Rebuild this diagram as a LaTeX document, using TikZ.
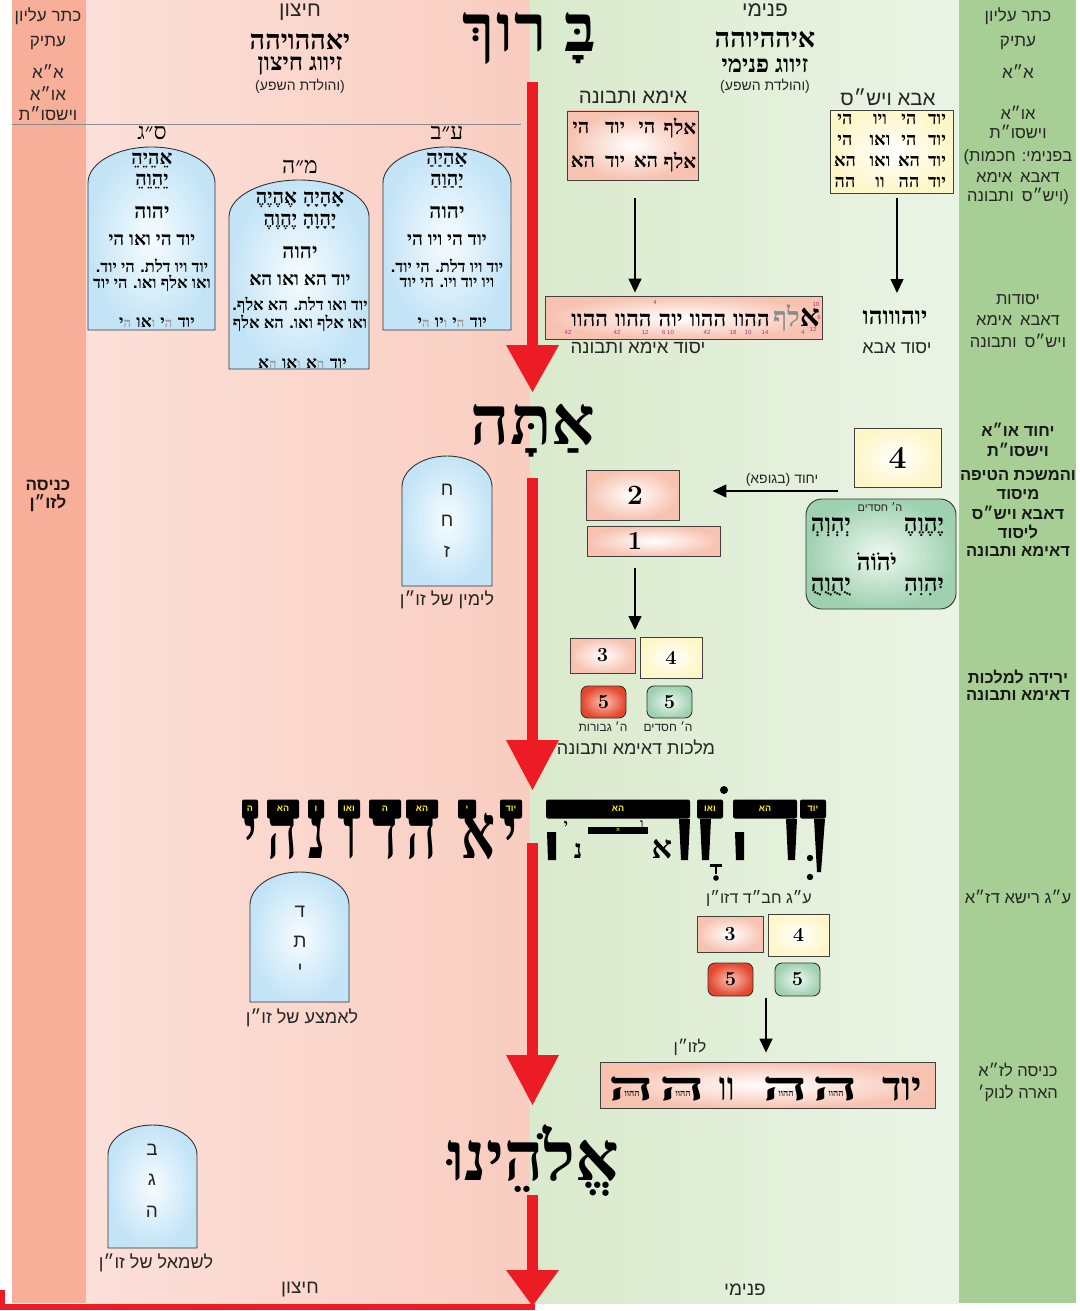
\documentclass[tikz,border=0pt]{standalone}
\usepackage{fontspec}
\usetikzlibrary{arrows.meta}
\newfontfamily\hs[Script=Hebrew]{Liberation Sans}
\newfontfamily\hr[Script=Hebrew]{Liberation Serif}
\newfontfamily\lat{Liberation Sans}
\TeXXeTstate=1
\newcommand\HR[1]{\beginR#1\endR}
\newcommand\fsz[1]{\fontsize{#1}{#1}\selectfont}
\newcommand\gr[1]{{\color{black!40}\fsz{13}#1}}
\definecolor{redL}{HTML}{ED1C24}
\definecolor{bandL}{HTML}{F8AF99}
\definecolor{bandR}{HTML}{A7CF95}
\definecolor{pinkA}{HTML}{FCE0D9}
\definecolor{pinkB}{HTML}{F9CDC0}
\definecolor{grnA}{HTML}{DAEACC}
\definecolor{grnB}{HTML}{EAF4E5}
\definecolor{tabOut}{HTML}{C3E4F7}
\definecolor{tabIn}{HTML}{F7FCFF}
\definecolor{boxPink}{HTML}{F7C2B0}
\definecolor{cream}{HTML}{FFF6C8}
\definecolor{redOut}{HTML}{E4462E}
\definecolor{redIn}{HTML}{FBC3B3}
\definecolor{gOut}{HTML}{9FD1B0}
\definecolor{gIn}{HTML}{EEF8F1}
\definecolor{yel}{HTML}{FFF200}
\definecolor{mag}{HTML}{B0307A}
\newcommand\tablet[6]{%
 \path[tabsty] (#2,#6) -- (#2,#5) .. controls (#2,{#5-0.552*(#5-#4)}) and ({(#2+#3)/2-0.276*(#3-#2)},#4) .. ({(#2+#3)/2},#4) .. controls ({(#2+#3)/2+0.276*(#3-#2)},#4) and (#3,{#5-0.552*(#5-#4)}) .. (#3,#5) -- (#3,#6) -- cycle;
 \coordinate (#1) at ({(#2+#3)/2},#4);}
\begin{document}
\begin{tikzpicture}[x=1pt,y=-1pt,
 lab/.style={font=\hs\fsz{16.5}, inner sep=0pt, text=black!85},
 blab/.style={font=\hs\bfseries\fsz{16.5}, inner sep=0pt, text=black!90},
 ser/.style={font=\hr\bfseries\fsz{20}, inner sep=0pt},
 tl/.style={font=\hr\bfseries\fsz{17}, inner sep=0pt, anchor=base east},
 big/.style={font=\hr\bfseries\fsz{68}, inner sep=0pt, anchor=base},
 bigl/.style={font=\hr\bfseries\fsz{62}, inner sep=0pt, anchor=base},
 pinkbox/.style={draw=black!75, line width=0.9pt, inner color=white, outer color=boxPink, inner sep=0pt},
 creambox/.style={draw=black!75, line width=0.9pt, inner color=white, outer color=cream, inner sep=0pt},
 redbox/.style={draw=black!80, line width=0.9pt, rounded corners=7pt, inner color=redIn, outer color=redOut, inner sep=0pt},
 grnbox/.style={draw=black!80, line width=0.9pt, rounded corners=7pt, inner color=gIn, outer color=gOut, inner sep=0pt},
 tabsty/.style={draw=black!80, line width=0.9pt, inner color=tabIn, outer color=tabOut},
 arr/.style={line width=1.5pt, -{Triangle[length=14pt,width=13pt]}},
 barsty/.style={fill=black, rounded corners=2pt, minimum height=19pt, inner sep=0pt, text=yel, font=\hs\bfseries\fsz{9}},
 mg/.style={font=\hs\fsz{6}, text=mag, inner sep=0pt},
]
\useasboundingbox (0,0) rectangle (1079,1311);
% backgrounds
\fill[bandL] (12,0) rectangle (86,1303);
\shade[left color=pinkA, right color=pinkB] (86,0) rectangle (530,1303);
\shade[left color=grnA, right color=grnB] (530,0) rectangle (959,1303);
\fill[bandR] (959,0) rectangle (1076,1303);
\draw[black!45, line width=0.8pt] (12,124) -- (521,124);

% red main arrow
\fill[redL] (527,82) rectangle (538,347);
\fill[redL] (506,345) -- (559,345) -- (532.5,392) -- cycle;
\fill[redL] (527,478) rectangle (538,742);
\fill[redL] (506,740) -- (559,740) -- (532.5,790) -- cycle;
\fill[redL] (527,843) rectangle (538,1057);
\fill[redL] (506,1055) -- (559,1055) -- (532.5,1105) -- cycle;
\fill[redL] (527,1195) rectangle (538,1272);
\fill[redL] (506,1270) -- (559,1270) -- (532.5,1306) -- cycle;
\fill[redL] (0,1304) rectangle (535,1310);
\fill[redL] (0,1290) rectangle (5,1310);

% left column
\node[lab, font=\hs\fsz{17}] (lc1) at (48,16) {\HR{כתר עליון}};
\node[lab, font=\hs\fsz{17}] (lc2) at (48,43) {\HR{עתיק}};
\node[lab, font=\hs\fsz{17}] (lc3) at (48,72) {\HR{א״א}};
\node[lab, font=\hs\fsz{17}] (lc4) at (48,94) {\HR{או״א}};
\node[lab, font=\hs\fsz{17}] (lc5) at (48,114) {\HR{וישסו״ת}};
\node[blab, font=\hs\bfseries\fsz{17}] (lc6) at (48,485) {\HR{כניסה}};
\node[blab, font=\hs\bfseries\fsz{17}] (lc7) at (48,503) {\HR{לזו״ן}};

% right column
\node[lab, font=\hs\fsz{17}] (rc1) at (1018,16) {\HR{כתר עליון}};
\node[lab, font=\hs\fsz{17}] (rc2) at (1018,43) {\HR{עתיק}};
\node[lab, font=\hs\fsz{17}] (rc3) at (1018,72) {\HR{א״א}};
\node[lab] (rc4) at (1018,113) {\HR{או״א}};
\node[lab] (rc5) at (1018,132) {\HR{וישסו״ת}};
\node[lab] (rc6) at (1018,157) {\HR{בפנימי{\lat:} חכמות{\lat(}}};
\node[lab] (rc7) at (1018,177) {\HR{דאבא\hspace{8pt}אימא}};
\node[lab] (rc8) at (1018,196) {\HR{{\lat)}ויש״ס\hspace{8pt}ותבונה}};
\node[lab] (rc9) at (1018,300) {\HR{יסודות}};
\node[lab] (rc10) at (1018,320) {\HR{דאבא\hspace{8pt}אימא}};
\node[lab] (rc11) at (1018,341) {\HR{ויש״ס\hspace{8pt}ותבונה}};
\node[blab] (rc12) at (1018,430) {\HR{יחוד או״א}};
\node[blab] (rc13) at (1018,450) {\HR{וישסו״ת}};
\node[blab] (rc14) at (1018,475) {\HR{והמשכת הטיפה}};
\node[blab] (rc15) at (1018,495) {\HR{מיסוד}};
\node[blab] (rc16) at (1018,513) {\HR{דאבא ויש״ס}};
\node[blab] (rc17) at (1018,532) {\HR{ליסוד}};
\node[blab] (rc18) at (1018,551) {\HR{דאימא ותבונה}};
\node[blab] (rc19) at (1018,677) {\HR{ירידה למלכות}};
\node[blab] (rc20) at (1018,695) {\HR{דאימא ותבונה}};
\node[lab] (rc21) at (1018,897) {\HR{ע״ג רישא דז״א}};
\node[lab] (rc22) at (1018,1070) {\HR{כניסה לז״א}};
\node[lab] (rc23) at (1018,1093) {\HR{הארה לנוק׳}};

% headings
\node[lab, font=\hs\fsz{21}] (hzT) at (300,12) {\HR{חיצון}};
\node[ser, font=\hr\bfseries\fsz{27}] (hzN) at (300,42) {יאההויהה};
\node[ser, font=\hr\bfseries\fsz{24}] (hzZ) at (300,66) {\HR{זיווג חיצון}};
\node[lab, font=\hs\fsz{14}] (hzH) at (300,86) {\HR{{\lat)}והולדת השפע{\lat(}}};
\node[lab, font=\hs\fsz{21}] (pnT) at (765,10) {\HR{פנימי}};
\node[ser, font=\hr\bfseries\fsz{27}] (pnN) at (765,40) {איההיוהה};
\node[ser, font=\hr\bfseries\fsz{24}] (pnZ) at (765,66) {\HR{זיווג פנימי}};
\node[lab, font=\hs\fsz{14}] (pnH) at (765,86) {\HR{{\lat)}והולדת השפע{\lat(}}};

% big words
\node[big, font=\hr\bfseries\fsz{66}] (brB) at (580,52) {בָּ};
\node[big, font=\hr\bfseries\fsz{66}] (brR) at (531,52) {ר};
\node[big, font=\hr\bfseries\fsz{66}] (brV) at (505,52) {ו};
\node[big, font=\hr\bfseries\fsz{66}] (brK) at (479,52) {ךְ};
\node[big] (ata) at (533,444) {אַתָּה};
\node[big] (elo) at (533,1180) {אֱלֹהֵינוּ};

% tablets
\tablet{tabSG}{88}{215}{147}{183}{330}
\tablet{tabMH}{229}{369}{180}{217}{369}
\tablet{tabAB}{383}{511}{147}{183}{330}
\tablet{tabHHZ}{402}{492}{456}{487}{586}
\tablet{tabDTY}{250}{349}{872}{905}{1002}
\tablet{tabBGH}{108}{197}{1125}{1155}{1248}
\node[ser, font=\hr\fsz{23}] (sgL) at (152,133) {\HR{ס״ג}};
\node[ser, font=\hr\fsz{23}] (mhL) at (300,167) {\HR{מ״ה}};
\node[ser, font=\hr\fsz{23}] (abL) at (447,133) {\HR{ע״ב}};
% ab
\node[ser] (ab1) at (447,160) {אַהַיַהַ};
\node[ser] (ab2) at (447,181) {יַהַוַהַ};
\node[ser, font=\hr\bfseries\fsz{21}] (ab3) at (447,212) {יהוה};
\node[ser, font=\hr\bfseries\fsz{19}] (ab4) at (447,240) {\HR{יוד הי ויו הי}};
\node[ser, font=\hr\bfseries\fsz{16.5}] (ab5) at (447,266) {\HR{יוד ויו דלת{\lat.} הי יוד{\lat.}}};
\node[ser, font=\hr\bfseries\fsz{16.5}] (ab6) at (447,283) {\HR{ויו יוד ויו{\lat.} הי יוד}};
\node[tl] (ab7d) at (487,327) {יוד};
\node[tl] (ab7c) at ([xshift=-5pt]ab7d.base west) {י\gr{ה}};
\node[tl] (ab7b) at ([xshift=-5pt]ab7c.base west) {יו\gr{ו}};
\node[tl] (ab7a) at ([xshift=-5pt]ab7b.base west) {י\gr{ה}};
% sg
\node[ser] (sg1) at (152,160) {אֵהֵיֵהֵ};
\node[ser] (sg2) at (152,181) {יֵהֵוֵהֵ};
\node[ser, font=\hr\bfseries\fsz{21}] (sg3) at (152,212) {יהוה};
\node[ser, font=\hr\bfseries\fsz{19}] (sg4) at (152,240) {\HR{יוד הי ואו הי}};
\node[ser, font=\hr\bfseries\fsz{16.5}] (sg5) at (152,266) {\HR{יוד ויו דלת{\lat.} הי יוד{\lat.}}};
\node[ser, font=\hr\bfseries\fsz{16.5}] (sg6) at (152,283) {\HR{ואו אלף ואו{\lat.} הי יוד}};
\node[tl] (sg7d) at (195,327) {יוד};
\node[tl] (sg7c) at ([xshift=-5pt]sg7d.base west) {י\gr{ה}};
\node[tl] (sg7b) at ([xshift=-5pt]sg7c.base west) {או\gr{ו}};
\node[tl] (sg7a) at ([xshift=-5pt]sg7b.base west) {י\gr{ה}};
% mh
\node[ser] (mh1) at (300,200) {\HR{אָהָיָהָ\hspace{6pt}אֶהֶיֶהֶ}};
\node[ser] (mh2) at (300,222) {\HR{יָהָוָהָ\hspace{6pt}יֶהֶוֶהֶ}};
\node[ser, font=\hr\bfseries\fsz{21}] (mh3) at (300,252) {יהוה};
\node[ser, font=\hr\bfseries\fsz{19}] (mh4) at (300,280) {\HR{יוד הא ואו הא}};
\node[ser, font=\hr\bfseries\fsz{16.5}] (mh5) at (300,305) {\HR{יוד ואו דלת{\lat.} הא אלף{\lat.}}};
\node[ser, font=\hr\bfseries\fsz{16.5}] (mh6) at (300,323) {\HR{ואו אלף ואו{\lat.} הא אלף}};
\node[tl] (mh7d) at (347,368) {יוד};
\node[tl] (mh7c) at ([xshift=-5pt]mh7d.base west) {א\gr{ה}};
\node[tl] (mh7b) at ([xshift=-5pt]mh7c.base west) {או\gr{ו}};
\node[tl] (mh7a) at ([xshift=-5pt]mh7b.base west) {א\gr{ה}};
% small tablets
\node[lab, font=\hs\fsz{19}] (t1a) at (447,490) {ח};
\node[lab, font=\hs\fsz{19}] (t1b) at (447,521) {ח};
\node[lab, font=\hs\fsz{19}] (t1c) at (447,552) {ז};
\node[lab, font=\hs\fsz{18}] (t1L) at (447,600) {\HR{לימין של זו״ן}};
\node[lab, font=\hs\fsz{19}] (t2a) at (300,912) {ד};
\node[lab, font=\hs\fsz{19}] (t2b) at (300,942) {ת};
\node[lab, font=\hs\fsz{19}] (t2c) at (300,970) {י};
\node[lab, font=\hs\fsz{18}] (t2L) at (302,1018) {\HR{לאמצע של זו״ן}};
\node[lab, font=\hs\fsz{19}] (t3a) at (152,1150) {ב};
\node[lab, font=\hs\fsz{19}] (t3b) at (152,1180) {ג};
\node[lab, font=\hs\fsz{19}] (t3c) at (152,1212) {ה};
\node[lab, font=\hs\fsz{18}] (t3L) at (156,1263) {\HR{לשמאל של זו״ן}};

% Ima / Abba boxes
\node[lab, font=\hs\fsz{20.5}] (imaL) at (633,97) {\HR{אימא ותבונה}};
\node[pinkbox, minimum width=131pt, minimum height=69pt] (imaBox) at (632.5,145.5) {};
\foreach \x/\w [count=\i] in {680/אלף,647/הי,615/יוד,581/הי}
  \node[ser, font=\hr\bfseries\fsz{20}] (imaA\i) at (\x,128) {\w};
\foreach \x/\w [count=\i] in {680/אלף,646/הא,615/יוד,583/הא}
  \node[ser, font=\hr\bfseries\fsz{20}] (imaB\i) at (\x,162) {\w};
\node[lab, font=\hs\fsz{20.5}] (abaL) at (888,97) {\HR{אבא ויש״ס}};
\node[creambox, minimum width=123pt, minimum height=83pt] (abaBox) at (891.5,151.5) {};
\foreach \y/\a/\b/\c/\d [count=\j] in {119/יוד/הי/ויו/הי, 140/יוד/הי/ואו/הי, 161/יוד/הא/ואו/הא, 182/יוד/הה/וו/הה}{
  \node[ser, font=\hr\bfseries\fsz{18}] (abw\j a) at (937,\y) {\a};
  \node[ser, font=\hr\bfseries\fsz{18}] (abw\j b) at (909,\y) {\b};
  \node[ser, font=\hr\bfseries\fsz{18}] (abw\j c) at (880,\y) {\c};
  \node[ser, font=\hr\bfseries\fsz{18}] (abw\j d) at (845,\y) {\d};
}
% yesodot
\node[pinkbox, minimum width=277pt, minimum height=43pt] (ysBox) at (683.5,317.5) {};
\node[ser, font=\hr\bfseries\fsz{22}, anchor=base east] (ysT) at (770,326) {\HR{ההוו\hspace{7pt}ההוו\hspace{7pt}יוה\hspace{7pt}ההוו\hspace{7pt}ההוו}};
\node[ser, anchor=base west] (ysA) at ([xshift=3pt]ysT.base east) {{\color{black!45}\fsz{27}לף}{\fsz{31}א}};
\foreach \x/\y/\t [count=\i] in {568/332/42, 617/332/42, 645/332/12, 668/332/{6 10}, 707/332/42, 733/332/18, 748/332/10, 765/332/14, 655/302/4, 816/304/10, 819/317/6, 813/329/12, 803/332/4}
  \node[mg] (ysn\i) at (\x,\y) {\t};
\node[lab, font=\hs\fsz{18.5}] (ysL) at (638,348) {\HR{יסוד אימא ותבונה}};
\node[ser, font=\hr\bfseries\fsz{24}] (yAb) at (895,318) {יוהוווהו};
\node[lab, font=\hs\fsz{18}] (yAbL) at (897,348) {\HR{יסוד אבא}};
\coordinate (a1s) at (635,198);
\coordinate (a2s) at (897,198);
\draw[arr, shorten >=3pt] (a1s) -- (a1s |- ysBox.north);
\draw[arr] (a2s) -- (897,293);

% yichud
\node[creambox, minimum width=87pt, minimum height=59pt, font=\bfseries\fsz{32}] (b4a) at (897.5,457.5) {4};
\node[pinkbox, minimum width=93pt, minimum height=50pt] (b2) at (632.5,495) {};
\node[font=\bfseries\fsz{28}, inner sep=0pt] (b2t) at (635,495) {2};
\node[pinkbox, minimum width=133pt, minimum height=30pt] (b1) at (653.5,541) {};
\node[font=\bfseries\fsz{26}, inner sep=0pt] (b1t) at (635,541) {1};
\coordinate (yS) at (838,491);
\draw[arr] (yS) -- ([xshift=33pt]b2.east |- yS);
\node[lab, font=\hs\fsz{14}] (yL) at (782,480) {\HR{יחוד {\lat)}בגופא{\lat(}}};
\node[draw=black!80, line width=0.9pt, rounded corners=16pt, inner color=gIn, outer color=gOut, minimum width=150pt, minimum height=110pt] (gBig) at (881,554) {};
\node[lab, font=\hs\fsz{11}] (gH) at (880,507) {\HR{ה׳ חסדים}};
\node[ser, font=\hr\bfseries\fsz{24}] (g1) at (924,527) {יֶהֶוֶהֶ};
\node[ser, font=\hr\bfseries\fsz{24}] (g2) at (831,527) {יְהְוְהְ};
\node[ser, font=\hr\bfseries\fsz{24}] (g3) at (877,562) {יֹהֹוֹהֹ};
\node[ser, font=\hr\bfseries\fsz{24}] (g4) at (831,587) {יֻהֻוֻהֻ};
\node[ser, font=\hr\bfseries\fsz{24}] (g5) at (924,587) {יִהִוִהִ};
\coordinate (a4s) at (635,568);
\draw[arr] (a4s) -- (635,630);

% malchut
\node[pinkbox, minimum width=65pt, minimum height=35pt, font=\bfseries\fsz{20}] (b3a) at (602.5,655.5) {3};
\node[creambox, minimum width=62pt, minimum height=41pt, font=\bfseries\fsz{20}] (b4b) at (671,657.5) {4};
\node[redbox, minimum width=45pt, minimum height=32pt, font=\bfseries\fsz{20}] (r5a) at (603.5,702) {5};
\node[grnbox, minimum width=45pt, minimum height=32pt, font=\bfseries\fsz{20}] (g5a) at (669.5,702) {5};
\node[lab, font=\hs\fsz{12}] (gvL) at (603,727) {\HR{ה׳ גבורות}};
\node[lab, font=\hs\fsz{12}] (hsL) at (668,727) {\HR{ה׳ חסדים}};
\node[lab, font=\hs\fsz{18}] (mlL) at (636,747) {\HR{מלכות דאימא ותבונה}};

% big row left: yahdonahi
\foreach \lx/\bx/\bw/\lb/\lt [count=\i] in {250/250/16/ה/י, 283/283/32/הא/ה, 317/316/16/ו/נ, 350/349/22/ואו/ו, 385/385/32/ה/ד, 422/422/32/הא/ה, 478/467/18/י/א, 510/511/22/יוד/י}{
  \node[bigl] (yl\i) at (\lx,858) {\scalebox{0.85}[1.25]{\lt}};
  \node[barsty, minimum width=\bw pt] (yb\i) at (\bx,809) {\lb};
}
% big row right
\fill (814,819) -- (825,819) -- (821,872) -- (817,872) -- cycle;
\fill (786,819) -- (797,819) -- (795,860) -- (788,860) -- cycle;
\fill (735,832) -- (744,832) -- (744,860) -- (736,860) -- cycle;
\fill (700,819) -- (711,819) -- (709,860) -- (702,860) -- cycle;
\fill (679,819) -- (690,819) -- (688,860) -- (681,860) -- cycle;
\fill (547,832) -- (556,832) -- (556,860) -- (548,860) -- cycle;
\node[barsty, minimum width=26pt] (rb1) at (813,809) {יוד};
\node[barsty, minimum width=64pt] (rb2) at (765,809) {הא};
\node[barsty, minimum width=26pt] (rb3) at (710,809) {ואו};
\node[barsty, minimum width=144pt] (rb4) at (618,809) {הא};
\node[fill=black, minimum width=60pt, minimum height=7pt, inner sep=0pt, text=yel, font=\hs\bfseries\fsz{5}] (rb5) at (618,830) {ה};
\node[ser, font=\hr\bfseries\fsz{32}, anchor=base] (rsA) at (662,858) {א};
\node[ser, font=\hr\bfseries\fsz{26}, anchor=base] (rsN) at (578,858) {נ};
\node[ser, font=\hr\bfseries\fsz{16}] (rsY) at (566,826) {י};
\node[ser, font=\hr\bfseries\fsz{12}] (rsV) at (642,824) {ו};
\fill (724,790) circle (4);
\fill (710,864) rectangle (722,867);
\fill (715,867) rectangle (717,874);
\fill (716,878) circle (2.8);
\fill (810,858) circle (3.2);
\fill (810,877) circle (3.2);
\node[lab, font=\hs\fsz{16}] (chbd) at (759,898) {\HR{ע״ג חב״ד דזו״ן}};

% lower set
\node[pinkbox, minimum width=66pt, minimum height=36pt, font=\bfseries\fsz{20}] (b3b) at (730,934) {3};
\node[creambox, minimum width=61pt, minimum height=42pt, font=\bfseries\fsz{20}] (b4c) at (798.5,935) {4};
\node[redbox, minimum width=45pt, minimum height=33pt, font=\bfseries\fsz{20}] (r5b) at (730.5,979.5) {5};
\node[grnbox, minimum width=45pt, minimum height=33pt, font=\bfseries\fsz{20}] (g5b) at (797.5,979.5) {5};
\node[pinkbox, minimum width=335pt, minimum height=46pt] (zonBox) at (767.5,1085) {};
\coordinate (a3s) at (766,998);
\draw[arr, shorten >=9pt] (a3s) -- (a3s |- zonBox.north);
\node[lab] (zonL) at (690,1047) {\HR{לזו״ן}};
\foreach \x [count=\i] in {632,683,786,836}{
  \node[ser, font=\hr\bfseries\fsz{40}, anchor=base] (zh\i) at (\x,1100) {\scalebox{2.1}[1]{ה}};
  \node[ser, font=\hr\bfseries\fsz{9}] (zs\i) at (\x,1094) {ההוו};
}
\node[ser, font=\hr\bfseries\fsz{40}, anchor=base] (zvv) at (727,1100) {\scalebox{0.7}[1]{וו}};
\node[ser, font=\hr\bfseries\fsz{40}, anchor=base] (zyd) at (902,1100) {יוד};

% bottom labels
\node[lab, font=\hs\fsz{19}] (btL) at (300,1290) {\HR{חיצון}};
\node[lab, font=\hs\fsz{19}] (btR) at (745,1290) {\HR{פנימי}};
\end{tikzpicture}
\end{document}
